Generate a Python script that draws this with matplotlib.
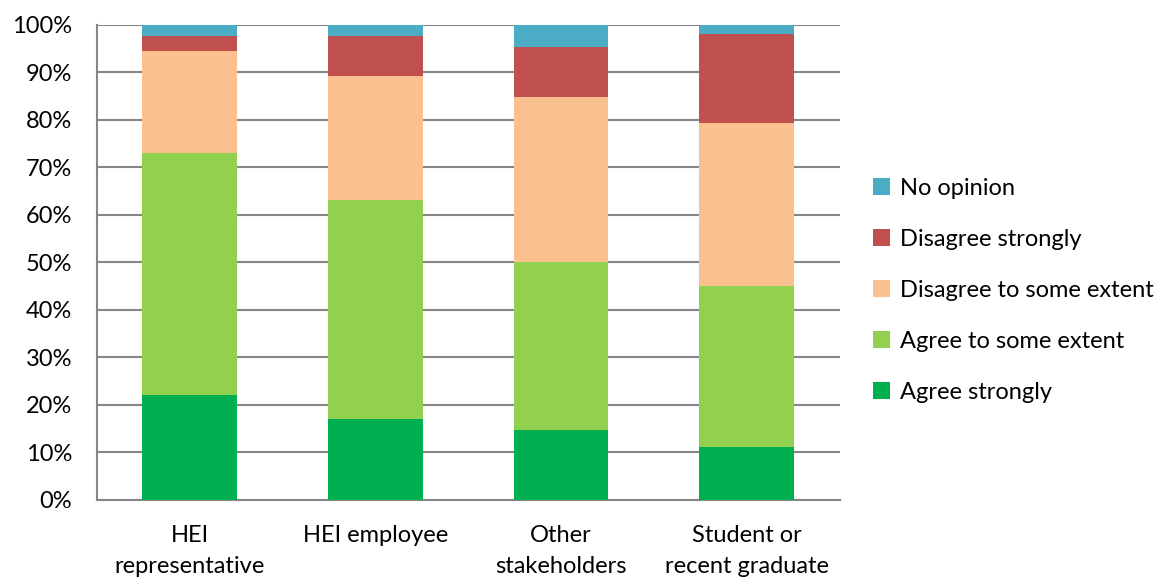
import matplotlib.pyplot as plt
import numpy as np

categories = ["HEI\nrepresentative", "HEI employee", "Other\nstakeholders",
              "Student or\nrecent graduate"]
agree_strongly = [22.0, 17.0, 14.8, 11.2]
agree_some = [51.1, 46.2, 35.3, 33.9]
disagree_some = [21.4, 26.1, 34.7, 34.2]
disagree_strongly = [3.2, 8.3, 10.6, 18.8]
no_opinion = [2.3, 2.4, 4.6, 1.9]

series = [
    ("Agree strongly", agree_strongly, "#00B050"),
    ("Agree to some extent", agree_some, "#92D050"),
    ("Disagree to some extent", disagree_some, "#FAC090"),
    ("Disagree strongly", disagree_strongly, "#C0504D"),
    ("No opinion", no_opinion, "#4BACC6"),
]

plt.rcParams["font.family"] = ["Lato", "DejaVu Sans"]
FS = 17

fig = plt.figure(figsize=(11.64, 5.78), dpi=100)
ax = fig.add_axes([0.0833, 0.135, 0.638, 0.822])

x = np.arange(len(categories))
bottom = np.zeros(len(categories))
for name, vals, col in series:
    ax.bar(x, vals, 0.51, bottom=bottom, color=col, label=name, zorder=3)
    bottom += np.array(vals)

ax.set_xlim(-0.5, len(categories) - 0.5)
ax.set_ylim(0, 100)
ax.set_yticks(np.arange(0, 101, 10))
ax.set_yticklabels([f"{v}%" for v in range(0, 101, 10)], fontsize=FS)
ax.set_xticks(x)
ax.set_xticklabels(categories, fontsize=FS, linespacing=1.6)
ax.tick_params(axis="x", length=0, pad=18)
ax.tick_params(axis="y", length=0, pad=18)
ax.grid(axis="y", color="#868686", linewidth=1.5, zorder=0)
for s in ["top", "right"]:
    ax.spines[s].set_visible(False)
for s in ["left", "bottom"]:
    ax.spines[s].set_color("#868686")
    ax.spines[s].set_linewidth(1.5)

handles, labels = ax.get_legend_handles_labels()
fig.legend(handles[::-1], labels[::-1], loc="center left",
           bbox_to_anchor=(0.732, 0.498), frameon=False, fontsize=FS,
           handlelength=0.7, handleheight=0.7, handletextpad=0.45,
           labelspacing=1.27)

fig.savefig("out.png", dpi=100)
